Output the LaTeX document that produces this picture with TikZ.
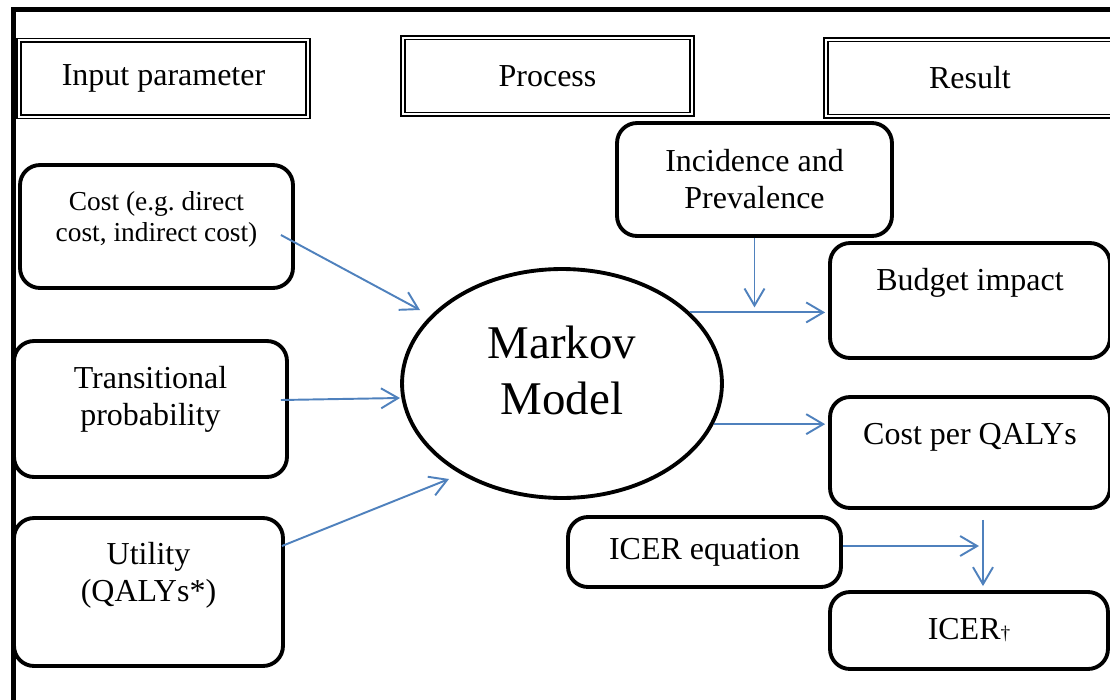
\documentclass[tikz,border=0pt]{standalone}
\usepackage{fontspec}
\setmainfont{Liberation Serif}
\usetikzlibrary{arrows.meta,shapes.geometric}

\definecolor{flowblue}{HTML}{4F81BD}
\newcommand{\normtext}{\fontsize{18.2}{21}\selectfont}
\newcommand{\smalltext}{\fontsize{15.6}{17.6}\selectfont}
\newcommand{\bigtext}{\fontsize{26.7}{31.8}\selectfont}

\begin{document}
\begin{tikzpicture}[
  x=0.02cm, y=-0.02cm,
  font=\normtext,
  header/.style={
    draw,
    double,
    double distance=1.3pt,
    line width=0.9pt,
    minimum width=5.78cm,
    minimum height=1.53cm,
    inner sep=0pt
  },
  rbox/.style={
    draw,
    line width=2.2pt,
    rounded corners=0.4cm,
    align=flush center,
    inner sep=2pt
  },
  flow/.style={-{Straight Barb[length=0.34cm,width=0.4cm]}, line width=1.1pt, draw=flowblue}
]

\useasboundingbox (0,0) rectangle (1110,700);
\draw[line width=2.3pt] (13.5,700) |- (1110,9.5);

% column headings
\node[header] (hin) at (163.5,78.5) {Input parameter};
\node[header] (hproc) at (547.5,76) {Process};
\node[header, minimum width=5.76cm] (hres) at (970,78) {Result};

% inputs
\node[rbox, minimum width=5.46cm, minimum height=2.46cm, text width=5cm, text depth=1.02cm, font=\smalltext]
  (cost) at (156.5,226.5) {Cost (e.g.\ direct\\cost, indirect cost)};
\node[rbox, minimum width=5.46cm, minimum height=2.72cm, text width=5cm, text depth=1.28cm]
  (trans) at (150.5,409) {Transitional\\probability};
\node[rbox, minimum width=5.38cm, minimum height=2.96cm, text width=5cm, text depth=1.54cm]
  (util) at (148.5,592) {Utility\\(QALYs*)};

% model
\node[ellipse, draw, line width=2.2pt, minimum width=6.4cm, minimum height=4.58cm,
  align=flush center, text width=3.6cm, text depth=1.64cm, font=\bigtext]
  (markov) at (562,383.5) {Markov\\Model};
\node[rbox, minimum width=5.5cm, minimum height=2.26cm, text width=5cm]
  (inc) at (754.5,179.5) {Incidence and\\Prevalence};
\node[rbox, minimum width=5.46cm, minimum height=1.4cm] (iceq) at (704.5,552) {ICER equation};

% results
\node[rbox, minimum width=5.6cm, minimum height=2.3cm, text depth=0.86cm] (budget) at (970,300.5) {Budget impact};
\node[rbox, minimum width=5.6cm, minimum height=2.22cm, text depth=0.74cm] (cpq) at (970,452.5) {Cost per QALYs};
\node[rbox, minimum width=5.56cm, minimum height=1.54cm] (icer) at (969,630.5) {ICER{\fontsize{11}{11}\selectfont †}};

% connectors
\draw[flow] ([shift={(-14,8.5)}]cost.east) -- ([shift={(-142,-73.5)}]markov.center);
\draw[flow] ([shift={(-8,-9)}]trans.east) -- ([shift={(-162,14.5)}]markov.center);
\draw[flow] ([shift={(-3,-46)}]util.east) -- ([shift={(-113,95.5)}]markov.center);

\draw[flow, shorten >=0.06cm] (markov.29) -- (markov.29 -| budget.west);
\draw[flow, shorten >=0.1cm] (inc.south) -- (inc.south |- markov.29);
\draw[flow, shorten >=0.06cm] (markov.-15) -- (markov.-15 -| cpq.west);

\coordinate (qline) at ([shift={(13,0)}]cpq.south);
\coordinate (eqout) at ([shift={(0,-6)}]iceq.east);
\draw[flow, shorten <=0.2cm, shorten >=0.08cm] (qline) -- (qline |- icer.north);
\draw[flow, shorten >=0.08cm] (eqout) -- (eqout -| qline);

\end{tikzpicture}
\end{document}
